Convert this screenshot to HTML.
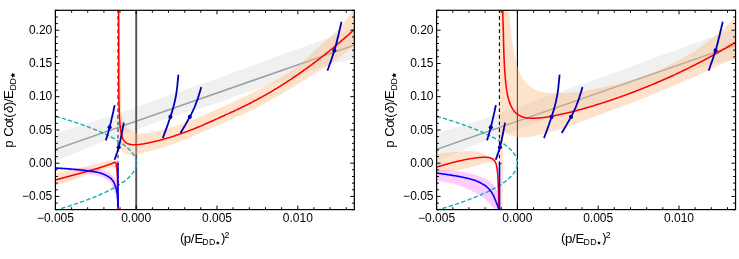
<!DOCTYPE html>
<html><head><meta charset="utf-8"><title>plot</title>
<style>
html,body{margin:0;padding:0;background:#fff;}
svg{display:block}
text{font-family:"Liberation Sans",sans-serif;fill:#000}
.t{font-size:12px}
.a{font-size:13.2px}
.s{font-size:8.8px}
</style></head><body>
<svg width="739" height="259" viewBox="0 0 739 259">
<defs><clipPath id="clip"><rect x="55.4" y="10.3" width="298.95000000000005" height="199.99999999999997"/></clipPath><filter id="gs" x="0" y="0" width="739" height="259" filterUnits="userSpaceOnUse" color-interpolation-filters="sRGB"><feColorMatrix type="saturate" values="0"/></filter></defs>
<rect width="739" height="259" fill="#fff"/>
<g clip-path="url(#clip)">
<path d="M55.4 133.4 L61.1 131.6 L66.8 129.8 L72.5 128.0 L78.4 126.2 L84.2 124.4 L90.0 122.6 L95.7 120.9 L101.1 119.2 L106.4 117.5 L111.7 115.8 L117.1 113.9 L123.0 111.9 L129.5 109.6 L137.0 106.9 L145.7 103.8 L155.3 100.4 L165.2 96.8 L175.1 93.3 L184.6 89.9 L193.2 86.9 L200.8 84.3 L207.7 81.9 L214.3 79.6 L220.8 77.3 L227.7 74.8 L235.0 72.1 L243.1 69.0 L252.1 65.7 L262.2 61.9 L273.4 57.8 L285.4 53.4 L297.6 49.0 L309.5 44.7 L320.6 40.7 L330.5 37.1 L338.6 34.2 L345.0 31.9 L350.1 30.0 L354.6 28.3 L354.6 59.0 L346.8 60.5 L339.0 62.1 L331.1 64.1 L322.9 66.6 L314.5 69.4 L305.6 72.6 L296.1 76.0 L286.2 79.5 L276.0 83.0 L266.0 86.3 L256.5 89.4 L247.7 92.1 L240.0 94.5 L233.9 96.7 L229.0 98.8 L223.2 101.1 L214.8 103.9 L204.6 107.1 L194.1 110.2 L184.6 113.0 L177.0 115.3 L170.5 117.4 L163.6 119.8 L155.5 122.6 L146.9 125.7 L138.5 128.8 L130.7 131.8 L123.8 134.5 L117.4 136.8 L111.6 138.7 L106.2 140.4 L101.5 142.0 L96.5 144.0 L90.3 146.6 L83.0 149.7 L75.4 153.0 L68.3 155.9 L61.7 158.4 L55.4 160.8Z" fill="#f0f0f0"/>
<path d="M55.4 149.4 L354.35 45.1" stroke="#9c9c9c" stroke-width="1.5" fill="none"/>
<path d="M55.4 163.2 L354.35 163.2" stroke="#fff8fa" stroke-width="1" fill="none"/>
<path d="M136.2 10.3 L136.2 209.6" stroke="#525252" stroke-width="1.9" fill="none"/>
<path d="M119.6 10.5 L119.6 14.2 L119.7 17.9 L119.7 21.6 L119.8 25.3 L119.8 28.9 L119.9 32.6 L119.9 36.3 L120.0 40.0 L120.0 43.7 L120.1 47.4 L120.1 51.1 L120.2 54.8 L120.3 58.5 L120.3 62.2 L120.4 65.9 L120.5 69.5 L120.6 73.2 L120.7 76.7 L120.7 80.2 L120.8 83.6 L120.9 86.9 L121.0 90.1 L121.1 93.2 L121.1 96.1 L121.2 98.8 L121.2 101.3 L121.3 103.7 L121.3 105.9 L121.4 108.0 L121.5 109.9 L121.6 111.8 L121.8 113.5 L122.0 115.3 L122.3 116.9 L122.7 118.6 L123.1 120.1 L123.6 121.6 L124.1 123.0 L124.7 124.4 L125.4 125.6 L126.1 126.7 L127.0 127.8 L127.9 128.7 L129.0 129.6 L130.2 130.3 L131.5 131.0 L132.9 131.7 L134.3 132.3 L135.8 132.9 L137.3 133.1 L138.7 133.3 L140.2 133.4 L141.7 133.4 L143.1 133.4 L144.6 133.3 L146.1 133.2 L147.5 133.0 L149.0 132.8 L150.5 132.6 L152.0 132.3 L153.4 132.1 L154.9 131.8 L156.4 131.4 L157.8 131.1 L159.3 130.7 L160.8 130.3 L162.2 129.9 L163.7 129.5 L165.2 129.1 L166.6 128.7 L168.1 128.3 L169.6 127.8 L171.0 127.4 L172.5 126.9 L174.0 126.4 L175.4 126.0 L176.9 125.5 L178.4 125.0 L179.9 124.5 L181.3 123.9 L182.8 123.4 L184.3 122.9 L185.7 122.3 L187.2 121.8 L188.7 121.2 L190.1 120.7 L191.6 120.1 L193.1 119.5 L194.5 119.0 L196.0 118.4 L197.5 117.8 L198.9 117.2 L200.4 116.6 L201.9 115.9 L203.3 115.3 L204.8 114.7 L206.3 114.0 L207.8 113.4 L209.2 112.7 L210.7 112.0 L212.2 111.4 L213.6 110.7 L215.1 110.1 L216.6 109.4 L218.0 108.8 L219.5 108.1 L221.0 107.4 L222.4 106.8 L223.9 106.2 L225.4 105.5 L226.8 104.9 L228.3 104.2 L229.8 103.6 L231.2 102.9 L232.7 102.2 L234.2 101.6 L235.7 100.9 L237.1 100.2 L238.6 99.5 L240.1 98.8 L241.5 98.2 L243.0 97.4 L244.5 96.7 L245.9 96.0 L247.4 95.3 L248.9 94.6 L250.3 93.8 L251.8 93.1 L253.3 92.3 L254.7 91.6 L256.2 90.8 L257.7 90.0 L259.2 89.3 L260.6 88.5 L262.1 87.7 L263.6 86.9 L265.0 86.1 L266.5 85.4 L268.0 84.6 L269.4 83.8 L270.9 83.0 L272.4 82.2 L273.8 81.3 L275.3 80.5 L276.8 79.7 L278.2 78.8 L279.7 77.9 L281.2 77.1 L282.6 76.2 L284.1 75.2 L285.6 74.3 L287.1 73.3 L288.5 72.4 L290.0 71.4 L291.5 70.3 L292.9 69.3 L294.4 68.2 L295.9 67.1 L297.3 65.9 L298.8 64.8 L300.3 63.6 L301.7 62.5 L303.2 61.3 L304.7 60.1 L306.1 58.8 L307.6 57.4 L309.1 56.0 L310.5 54.6 L312.0 53.1 L313.5 51.7 L315.0 50.3 L316.4 49.0 L317.9 47.7 L319.4 46.5 L320.8 45.2 L322.3 43.9 L323.8 42.6 L325.2 41.3 L326.7 40.0 L328.2 38.7 L329.6 37.4 L331.1 36.0 L332.6 34.7 L334.0 33.3 L335.5 32.0 L337.0 30.5 L338.4 29.0 L339.9 27.5 L341.4 25.8 L342.9 24.0 L344.3 22.1 L345.8 20.1 L347.3 18.1 L348.7 16.0 L350.2 13.9 L351.7 11.7 L353.1 10.3 L354.6 10.3 L354.6 45.1 L353.1 46.3 L351.5 47.6 L350.0 48.9 L348.5 50.1 L346.9 51.4 L345.4 52.6 L343.9 53.8 L342.3 55.0 L340.8 56.3 L339.3 57.5 L337.7 58.7 L336.2 59.9 L334.7 61.0 L333.1 62.2 L331.6 63.3 L330.1 64.4 L328.5 65.5 L327.0 66.4 L325.4 67.4 L323.9 68.3 L322.4 69.1 L320.8 70.0 L319.3 70.9 L317.8 71.8 L316.2 72.8 L314.7 73.7 L313.2 74.6 L311.6 75.6 L310.1 76.5 L308.6 77.5 L307.0 78.4 L305.5 79.3 L304.0 80.3 L302.4 81.2 L300.9 82.2 L299.4 83.1 L297.8 84.1 L296.3 85.1 L294.8 86.0 L293.2 87.0 L291.7 87.9 L290.2 88.9 L288.6 89.8 L287.1 90.7 L285.6 91.7 L284.0 92.6 L282.5 93.5 L281.0 94.4 L279.4 95.3 L277.9 96.2 L276.4 97.1 L274.8 97.9 L273.3 98.8 L271.8 99.6 L270.2 100.5 L268.7 101.3 L267.1 102.1 L265.6 103.0 L264.1 103.8 L262.5 104.6 L261.0 105.4 L259.5 106.2 L257.9 107.0 L256.4 107.8 L254.9 108.5 L253.3 109.3 L251.8 110.1 L250.3 110.8 L248.7 111.6 L247.2 112.3 L245.7 113.1 L244.1 113.8 L242.6 114.5 L241.1 115.2 L239.5 115.9 L238.0 116.6 L236.5 117.3 L234.9 118.0 L233.4 118.7 L231.9 119.3 L230.3 120.0 L228.8 120.7 L227.3 121.3 L225.7 122.0 L224.2 122.6 L222.7 123.3 L221.1 123.9 L219.6 124.6 L218.1 125.3 L216.5 125.9 L215.0 126.6 L213.5 127.3 L211.9 128.0 L210.4 128.7 L208.8 129.4 L207.3 130.1 L205.8 130.7 L204.2 131.4 L202.7 132.1 L201.2 132.8 L199.6 133.5 L198.1 134.2 L196.6 134.8 L195.0 135.5 L193.5 136.1 L192.0 136.8 L190.4 137.4 L188.9 138.0 L187.4 138.7 L185.8 139.3 L184.3 139.9 L182.8 140.5 L181.2 141.1 L179.7 141.6 L178.2 142.2 L176.6 142.8 L175.1 143.3 L173.6 143.9 L172.0 144.4 L170.5 144.9 L169.0 145.5 L167.4 146.0 L165.9 146.5 L164.4 147.0 L162.8 147.5 L161.3 147.9 L159.8 148.4 L158.2 148.9 L156.7 149.3 L155.2 149.7 L153.6 150.2 L152.1 150.6 L150.5 151.0 L149.0 151.4 L147.5 151.8 L145.9 152.2 L144.4 152.6 L142.9 153.0 L141.3 153.4 L139.8 153.8 L138.3 154.1 L136.7 154.4 L135.2 154.7 L133.7 154.9 L132.1 155.0 L130.6 155.0 L129.1 154.9 L127.5 154.6 L126.0 154.0 L124.8 153.4 L123.7 152.8 L122.7 152.0 L121.9 151.1 L121.4 150.0 L120.9 148.7 L120.6 147.4 L120.4 146.0 L120.2 144.5 L120.0 143.1 L119.9 141.7 L119.8 140.2 L119.6 138.5 L119.5 136.6 L119.4 134.3 L119.3 131.6 L119.1 128.7 L119.0 125.7 L118.8 122.6 L118.7 119.5 L118.6 116.6 L118.5 113.9 L118.3 111.4 L118.3 109.1 L118.2 106.8 L118.1 104.5 L118.0 102.0 L118.0 99.2 L117.9 96.1 L117.9 92.8 L117.9 89.1 L117.9 85.2 L117.8 81.1 L117.8 76.9 L117.8 72.5 L117.8 68.1 L117.8 63.6 L117.8 59.1 L117.8 54.6 L117.8 50.2 L117.8 45.7 L117.8 41.3 L117.8 36.9 L117.7 32.5 L117.7 28.1 L117.7 23.7 L117.7 19.3 L117.7 14.9 L117.7 10.5Z" fill="#f9b880" fill-opacity="0.40"/>
<path d="M55.4 173.0 L57.8 172.5 L60.2 172.0 L62.6 171.5 L65.0 170.9 L67.4 170.4 L69.7 169.9 L71.9 169.4 L74.2 169.0 L76.3 168.5 L78.5 168.0 L80.5 167.5 L82.5 167.1 L84.4 166.6 L86.2 166.2 L88.0 165.8 L89.7 165.4 L91.2 165.1 L92.8 164.7 L94.2 164.4 L95.6 164.1 L97.0 163.8 L98.4 163.4 L99.8 163.0 L101.3 162.6 L102.8 162.1 L104.4 161.7 L105.9 161.2 L107.3 160.8 L108.6 160.5 L109.7 160.4 L110.7 160.3 L111.5 160.3 L112.3 160.5 L113.0 160.6 L113.7 160.8 L114.4 161.1 L114.9 161.5 L115.5 161.9 L116.0 162.3 L116.4 167.5 L115.6 167.5 L114.8 167.4 L114.0 167.4 L113.2 167.4 L112.4 167.5 L111.4 167.6 L110.5 167.7 L109.5 167.9 L108.4 168.2 L107.3 168.5 L106.0 168.8 L104.7 169.2 L103.4 169.7 L101.9 170.2 L100.3 170.7 L98.7 171.3 L97.0 171.9 L95.2 172.5 L93.4 173.1 L91.5 173.8 L89.6 174.5 L87.7 175.1 L85.8 175.8 L83.8 176.5 L81.8 177.2 L79.9 177.8 L78.0 178.5 L76.0 179.1 L74.1 179.7 L72.2 180.3 L70.3 180.9 L68.4 181.5 L66.6 182.0 L64.7 182.6 L62.8 183.1 L61.0 183.7 L59.1 184.2 L57.3 184.8 L55.4 185.3Z" fill="#f9b880" fill-opacity="0.40"/>
<path d="M55.3 168.9 L56.1 169.0 L56.9 169.0 L57.7 169.1 L58.5 169.2 L59.3 169.2 L60.2 169.3 L61.0 169.4 L61.8 169.4 L62.6 169.5 L63.4 169.6 L64.2 169.7 L65.0 169.8 L65.9 169.8 L66.7 169.9 L67.5 170.0 L68.4 170.1 L69.2 170.2 L70.1 170.3 L70.9 170.4 L71.8 170.5 L72.7 170.6 L73.5 170.8 L74.4 170.9 L75.3 171.0 L76.2 171.2 L77.1 171.3 L78.0 171.4 L78.9 171.6 L79.7 171.7 L80.6 171.9 L81.5 172.0 L82.4 172.2 L83.3 172.4 L84.2 172.5 L85.0 172.7 L85.9 172.9 L86.8 173.1 L87.6 173.3 L88.5 173.5 L89.3 173.7 L90.1 173.9 L90.9 174.1 L91.7 174.3 L92.5 174.5 L93.3 174.7 L94.0 174.9 L94.8 175.0 L95.5 175.2 L96.2 175.4 L96.9 175.5 L97.6 175.7 L98.2 175.9 L98.9 176.0 L99.5 176.2 L100.0 176.4 L100.6 176.6 L101.1 176.8 L101.7 177.0 L102.2 177.2 L102.7 177.4 L103.1 177.6 L103.6 177.8 L104.1 178.1 L104.5 178.3 L104.9 178.5 L105.4 178.7 L105.8 179.0 L106.2 179.2 L106.5 179.4 L106.9 179.6 L107.2 179.9 L107.6 180.1 L107.9 180.3 L108.1 180.5 L108.4 180.7 L108.7 180.9 L108.9 181.2 L109.1 181.4 L109.4 181.7 L109.6 181.9 L109.8 182.2 L110.0 182.5 L110.2 182.8 L110.4 183.1 L110.6 183.4 L110.8 183.7 L111.0 184.0 L111.1 184.3 L111.3 184.6 L111.4 185.0 L111.5 185.3 L111.7 185.7 L111.8 186.0 L112.0 186.4 L112.1 186.8 L112.3 187.2 L112.5 187.6 L112.7 188.0 L113.0 188.4 L113.2 188.8 L113.4 189.2 L113.6 189.5 L113.8 189.9 L114.0 190.3 L114.2 190.7 L114.3 191.1 L114.5 191.5 L114.7 191.9 L114.9 192.4 L115.0 192.8 L115.2 193.3 L115.3 193.8 L115.5 194.3 L115.6 194.8 L115.8 195.3 L115.9 195.8 L116.1 196.3 L116.2 196.9 L116.4 197.4 L116.5 198.0 L116.7 198.5 L116.8 199.1 L116.9 199.6 L117.1 200.2 L117.2 200.7 L117.3 201.2 L117.5 201.8 L117.6 202.3 L117.7 202.8 L117.8 203.3 L117.9 203.7 L117.9 204.2 L117.9 204.6 L117.9 205.1 L117.9 205.5 L117.9 205.9 L117.9 206.4 L117.9 206.8 L118.0 207.2 L118.0 207.2 L117.9 206.8 L117.9 206.4 L117.9 205.9 L117.9 205.5 L117.9 205.1 L117.9 204.6 L117.9 204.2 L117.9 203.7 L117.9 203.3 L118.0 202.8 L118.0 202.3 L118.0 201.7 L118.0 201.2 L118.0 200.6 L118.0 200.1 L118.0 199.5 L118.0 199.0 L118.0 198.4 L118.0 197.8 L118.0 197.2 L118.0 196.7 L118.0 196.1 L118.0 195.5 L118.0 195.0 L118.0 194.4 L118.0 193.9 L118.0 193.3 L118.0 192.8 L118.0 192.2 L118.0 191.7 L118.0 191.1 L118.0 190.6 L118.0 190.1 L118.0 189.5 L118.0 189.0 L118.0 188.5 L118.0 188.0 L118.0 187.5 L118.0 187.0 L118.0 186.6 L118.0 186.1 L118.0 185.6 L118.0 185.2 L118.0 184.8 L118.0 184.3 L118.0 183.9 L117.9 183.4 L117.7 183.0 L117.5 182.5 L117.3 182.0 L117.1 181.5 L116.8 181.0 L116.6 180.5 L116.3 180.0 L116.0 179.6 L115.7 179.1 L115.4 178.6 L115.0 178.2 L114.7 177.7 L114.3 177.3 L113.9 176.8 L113.5 176.4 L113.1 176.0 L112.6 175.7 L112.2 175.3 L111.8 175.0 L111.3 174.7 L110.9 174.4 L110.4 174.1 L110.0 173.8 L109.5 173.5 L109.0 173.2 L108.6 173.0 L108.1 172.7 L107.6 172.4 L107.0 172.2 L106.5 171.9 L105.9 171.6 L105.3 171.3 L104.7 171.1 L104.1 170.8 L103.4 170.6 L102.8 170.3 L102.1 170.1 L101.4 169.9 L100.6 169.7 L99.9 169.5 L99.1 169.3 L98.3 169.1 L97.6 168.9 L96.8 168.8 L95.9 168.7 L95.1 168.6 L94.3 168.5 L93.4 168.5 L92.6 168.4 L91.7 168.4 L90.8 168.4 L90.0 168.4 L89.1 168.3 L88.2 168.3 L87.3 168.3 L86.4 168.3 L85.5 168.3 L84.6 168.2 L83.7 168.2 L82.8 168.2 L81.9 168.1 L81.0 168.1 L80.1 168.1 L79.2 168.1 L78.3 168.0 L77.4 168.0 L76.5 168.0 L75.6 167.9 L74.7 167.9 L73.8 167.9 L72.9 167.8 L72.0 167.8 L71.2 167.7 L70.3 167.7 L69.4 167.7 L68.6 167.6 L67.7 167.6 L66.9 167.6 L66.0 167.5 L65.2 167.5 L64.4 167.5 L63.5 167.4 L62.7 167.4 L61.9 167.4 L61.1 167.3 L60.3 167.3 L59.5 167.3 L58.7 167.2 L57.9 167.2 L57.1 167.2 L56.3 167.1 L55.5 167.1Z" fill="#ff00ff" fill-opacity="0.2"/>
<path d="M55.4 116.2 L56.5 116.5 L57.6 116.8 L58.6 117.1 L59.7 117.5 L60.7 117.8 L61.8 118.1 L62.8 118.4 L63.8 118.7 L64.9 119.0 L65.9 119.3 L66.9 119.7 L67.9 120.0 L68.9 120.3 L69.9 120.6 L70.8 120.9 L71.8 121.2 L72.8 121.5 L73.7 121.9 L74.7 122.2 L75.6 122.5 L76.5 122.8 L77.5 123.1 L78.4 123.4 L79.3 123.7 L80.2 124.1 L81.1 124.4 L82.0 124.7 L82.9 125.0 L83.7 125.3 L84.6 125.6 L85.5 125.9 L86.3 126.3 L87.2 126.6 L88.0 126.9 L88.8 127.2 L89.6 127.5 L90.5 127.8 L91.3 128.1 L92.1 128.5 L92.9 128.8 L93.7 129.1 L94.4 129.4 L95.2 129.7 L96.0 130.0 L96.7 130.3 L97.5 130.7 L98.2 131.0 L99.0 131.3 L99.7 131.6 L100.4 131.9 L101.1 132.2 L101.8 132.5 L102.5 132.9 L103.2 133.2 L103.9 133.5 L104.6 133.8 L105.3 134.1 L105.9 134.4 L106.6 134.7 L107.3 135.1 L107.9 135.4 L108.5 135.7 L109.2 136.0 L109.8 136.3 L110.4 136.6 L111.0 137.0 L111.6 137.3 L112.2 137.6 L112.8 137.9 L113.4 138.2 L113.9 138.5 L114.5 138.8 L115.1 139.2 L115.6 139.5 L116.1 139.8 L116.7 140.1 L117.2 140.4 L117.7 140.7 L118.2 141.0 L118.7 141.4 L119.2 141.7 L119.7 142.0 L120.2 142.3 L120.7 142.6 L121.2 142.9 L121.6 143.2 L122.1 143.6 L122.5 143.9 L123.0 144.2 L123.4 144.5 L123.8 144.8 L124.3 145.1 L124.7 145.4 L125.1 145.8 L125.5 146.1 L125.9 146.4 L126.2 146.7 L126.6 147.0 L127.0 147.3 L127.3 147.6 L127.7 148.0 L128.0 148.3 L128.4 148.6 L128.7 148.9 L129.0 149.2 L129.4 149.5 L129.7 149.8 L130.0 150.2 L130.3 150.5 L130.6 150.8 L130.8 151.1 L131.1 151.4 L131.4 151.7 L131.6 152.0 L131.9 152.4 L132.1 152.7 L132.4 153.0 L132.6 153.3 L132.8 153.6 L133.1 153.9 L133.3 154.2 L133.5 154.6 L133.7 154.9 L133.9 155.2 L134.0 155.5 L134.2 155.8 L134.4 156.1 L134.5 156.4 L134.7 156.8 L134.8 157.1 L135.0 157.4 L135.1 157.7 L135.2 158.0 L135.3 158.3 L135.4 158.6 L135.5 159.0 L135.6 159.3 L135.7 159.6 L135.8 159.9 L135.9 160.2 L135.9 160.5 L136.0 160.8 L136.0 161.2 L136.1 161.5 L136.1 161.8 L136.2 162.1 L136.2 162.4 L136.2 162.7 L136.2 163.0 L136.2 163.4 L136.2 163.7 L136.2 164.0 L136.2 164.3 L136.1 164.6 L136.1 164.9 L136.0 165.2 L136.0 165.6 L135.9 165.9 L135.9 166.2 L135.8 166.5 L135.7 166.8 L135.6 167.1 L135.5 167.4 L135.4 167.8 L135.3 168.1 L135.2 168.4 L135.1 168.7 L135.0 169.0 L134.8 169.3 L134.7 169.6 L134.5 170.0 L134.4 170.3 L134.2 170.6 L134.0 170.9 L133.9 171.2 L133.7 171.5 L133.5 171.8 L133.3 172.2 L133.1 172.5 L132.8 172.8 L132.6 173.1 L132.4 173.4 L132.1 173.7 L131.9 174.0 L131.6 174.4 L131.4 174.7 L131.1 175.0 L130.8 175.3 L130.6 175.6 L130.3 175.9 L130.0 176.2 L129.7 176.6 L129.4 176.9 L129.0 177.2 L128.7 177.5 L128.4 177.8 L128.0 178.1 L127.7 178.4 L127.3 178.8 L127.0 179.1 L126.6 179.4 L126.2 179.7 L125.9 180.0 L125.5 180.3 L125.1 180.6 L124.7 181.0 L124.3 181.3 L123.8 181.6 L123.4 181.9 L123.0 182.2 L122.5 182.5 L122.1 182.8 L121.6 183.2 L121.2 183.5 L120.7 183.8 L120.2 184.1 L119.7 184.4 L119.2 184.7 L118.7 185.0 L118.2 185.4 L117.7 185.7 L117.2 186.0 L116.7 186.3 L116.1 186.6 L115.6 186.9 L115.1 187.2 L114.5 187.6 L113.9 187.9 L113.4 188.2 L112.8 188.5 L112.2 188.8 L111.6 189.1 L111.0 189.4 L110.4 189.8 L109.8 190.1 L109.2 190.4 L108.5 190.7 L107.9 191.0 L107.3 191.3 L106.6 191.7 L105.9 192.0 L105.3 192.3 L104.6 192.6 L103.9 192.9 L103.2 193.2 L102.5 193.5 L101.8 193.9 L101.1 194.2 L100.4 194.5 L99.7 194.8 L99.0 195.1 L98.2 195.4 L97.5 195.7 L96.7 196.1 L96.0 196.4 L95.2 196.7 L94.4 197.0 L93.7 197.3 L92.9 197.6 L92.1 197.9 L91.3 198.3 L90.5 198.6 L89.6 198.9 L88.8 199.2 L88.0 199.5 L87.2 199.8 L86.3 200.1 L85.5 200.5 L84.6 200.8 L83.7 201.1 L82.9 201.4 L82.0 201.7 L81.1 202.0 L80.2 202.3 L79.3 202.7 L78.4 203.0 L77.5 203.3 L76.5 203.6 L75.6 203.9 L74.7 204.2 L73.7 204.5 L72.8 204.9 L71.8 205.2 L70.8 205.5 L69.9 205.8 L68.9 206.1 L67.9 206.4 L66.9 206.7 L65.9 207.1 L64.9 207.4 L63.8 207.7 L62.8 208.0 L61.8 208.3 L60.7 208.6 L59.7 208.9 L58.6 209.3 L57.6 209.6 L56.5 209.6 L55.4 209.6" stroke="#16acb8" stroke-width="1.4" stroke-dasharray="4.4 2.2" fill="none"/>
<path d="M118.0 10.3 L118.0 209.6" stroke="#555" stroke-width="1.4" stroke-dasharray="3.6 3.0" stroke-dashoffset="0.8" fill="none"/>
<path d="M118.5 -20.1 L118.6 13.1 L118.7 35.4 L118.7 51.6 L118.7 63.7 L118.7 73.3 L118.7 80.9 L118.8 87.2 L118.8 92.4 L118.9 96.8 L118.9 100.6 L119.0 103.9 L119.1 106.8 L119.2 109.4 L119.3 111.7 L119.4 113.7 L119.4 115.5 L119.5 117.2 L119.6 118.7 L119.7 120.1 L119.8 121.3 L119.9 122.5 L119.9 123.6 L120.0 124.6 L120.1 125.5 L120.2 126.3 L120.3 127.1 L120.4 127.9 L120.5 128.6 L120.5 129.2 L120.6 129.9 L120.7 130.4 L120.8 131.0 L120.9 131.5 L121.0 132.0 L121.1 132.5 L121.1 132.9 L121.2 133.3 L121.3 133.7 L121.4 134.1 L121.5 134.5 L121.6 134.8 L121.6 135.2 L121.7 135.5 L121.8 135.8 L121.9 136.1 L122.0 136.4 L122.1 136.6 L122.2 136.9 L122.2 137.1 L122.3 137.4 L122.4 137.6 L122.5 137.8 L122.6 138.0 L122.7 138.2 L122.7 138.4 L122.8 138.6 L122.9 138.8 L123.0 139.0 L123.2 139.4 L124.4 141.2 L125.5 142.3 L126.7 143.1 L127.9 143.7 L129.0 144.1 L130.2 144.4 L131.3 144.6 L132.5 144.7 L133.7 144.8 L134.8 144.8 L136.0 144.8 L137.2 144.7 L138.3 144.6 L139.5 144.4 L140.6 144.3 L141.8 144.1 L143.0 143.9 L144.1 143.8 L145.3 143.5 L146.5 143.3 L147.6 143.1 L148.8 142.9 L149.9 142.6 L151.1 142.3 L152.3 142.1 L153.4 141.8 L154.6 141.5 L155.8 141.2 L156.9 141.0 L158.1 140.7 L159.2 140.4 L160.4 140.0 L161.6 139.7 L162.7 139.4 L163.9 139.1 L165.1 138.7 L166.2 138.4 L167.4 138.1 L168.5 137.7 L169.7 137.4 L170.9 137.0 L172.0 136.7 L173.2 136.3 L174.4 135.9 L175.5 135.5 L176.7 135.1 L177.9 134.7 L179.0 134.3 L180.2 133.9 L181.3 133.5 L182.5 133.1 L183.7 132.7 L184.8 132.3 L186.0 131.8 L187.2 131.4 L188.3 131.0 L189.5 130.5 L190.6 130.1 L191.8 129.6 L193.0 129.2 L194.1 128.7 L195.3 128.3 L196.5 127.8 L197.6 127.3 L198.8 126.8 L199.9 126.4 L201.1 125.9 L202.3 125.4 L203.4 124.9 L204.6 124.3 L205.8 123.8 L206.9 123.3 L208.1 122.8 L209.2 122.3 L210.4 121.8 L211.6 121.2 L212.7 120.7 L213.9 120.2 L215.1 119.6 L216.2 119.1 L217.4 118.6 L218.6 118.1 L219.7 117.5 L220.9 117.0 L222.0 116.5 L223.2 116.0 L224.4 115.5 L225.5 114.9 L226.7 114.4 L227.9 113.9 L229.0 113.4 L230.2 112.8 L231.3 112.3 L232.5 111.8 L233.7 111.2 L234.8 110.7 L236.0 110.1 L237.2 109.6 L238.3 109.0 L239.5 108.5 L240.6 107.9 L241.8 107.3 L243.0 106.8 L244.1 106.2 L245.3 105.6 L246.5 105.0 L247.6 104.5 L248.8 103.9 L249.9 103.3 L251.1 102.7 L252.3 102.1 L253.4 101.4 L254.6 100.8 L255.8 100.2 L256.9 99.6 L258.1 99.0 L259.3 98.3 L260.4 97.7 L261.6 97.1 L262.8 96.4 L263.9 95.8 L265.1 95.1 L266.3 94.5 L267.4 93.8 L268.6 93.1 L269.8 92.5 L270.9 91.8 L272.1 91.1 L273.3 90.4 L274.4 89.7 L275.6 89.0 L276.8 88.3 L277.9 87.6 L279.1 86.9 L280.3 86.2 L281.4 85.4 L282.6 84.7 L283.8 83.9 L284.9 83.2 L286.1 82.4 L287.3 81.7 L288.4 80.9 L289.6 80.1 L290.8 79.4 L292.0 78.6 L293.1 77.8 L294.3 77.0 L295.5 76.2 L296.6 75.4 L297.8 74.6 L299.0 73.8 L300.1 73.0 L301.3 72.2 L302.5 71.3 L303.6 70.5 L304.8 69.7 L306.0 68.8 L307.1 68.0 L308.3 67.1 L309.5 66.3 L310.6 65.4 L311.8 64.6 L313.0 63.7 L314.1 62.8 L315.3 61.9 L316.5 61.0 L317.7 60.2 L318.8 59.3 L320.0 58.4 L321.2 57.5 L322.3 56.5 L323.5 55.6 L324.7 54.7 L325.8 53.8 L327.0 52.8 L328.2 51.9 L329.3 51.0 L330.5 50.0 L331.7 49.1 L332.9 48.1 L334.0 47.1 L335.2 46.2 L336.4 45.2 L337.5 44.2 L338.7 43.2 L339.9 42.2 L341.0 41.2 L342.2 40.2 L343.4 39.2 L344.5 38.2 L345.7 37.2 L346.9 36.2 L348.0 35.2 L349.2 34.1 L350.3 33.1 L351.5 32.0 L352.7 31.0 L353.8 29.9 L355.0 28.9" stroke="#ff0000" stroke-width="1.55" fill="none" stroke-linejoin="round"/>
<path d="M55.4 180.1 L57.2 179.6 L59.1 179.1 L60.9 178.6 L62.7 178.1 L64.6 177.6 L66.4 177.1 L68.2 176.6 L70.1 176.1 L71.9 175.6 L73.8 175.1 L75.6 174.6 L77.5 174.1 L79.3 173.6 L81.2 173.1 L83.0 172.5 L84.9 172.0 L86.7 171.5 L88.5 171.0 L90.3 170.4 L92.1 169.9 L93.9 169.4 L95.6 168.9 L97.2 168.4 L98.8 167.9 L100.4 167.4 L101.9 166.9 L103.3 166.5 L104.7 166.0 L106.0 165.6 L107.2 165.2 L108.3 164.8 L109.4 164.4 L110.3 164.1 L111.1 163.7 L111.9 163.4 L112.5 163.2 L113.1 162.9 L113.6 162.7 L114.1 162.5 L114.5 162.3 L115.0 162.3 L115.3 162.3 L115.6 162.5 L115.9 162.9 L116.0 163.3 L116.2 163.9 L116.3 164.5 L116.3 165.1 L116.4 165.8 L116.5 166.8 L116.7 167.8 L116.8 168.8 L116.9 169.9 L117.0 171.1 L117.1 172.3 L117.2 173.6 L117.2 174.9 L117.3 176.3 L117.4 177.7 L117.4 179.1 L117.5 180.6 L117.5 182.1 L117.6 183.6 L117.6 185.1 L117.6 186.6 L117.7 188.1 L117.7 189.7 L117.7 191.2 L117.8 192.9 L117.8 194.6 L117.8 196.4 L117.8 198.2 L117.9 200.2 L117.9 202.1 L117.9 204.1 L117.9 206.2 L117.9 208.2 L117.9 210.3" stroke="#ff0000" stroke-width="1.55" fill="none" stroke-linejoin="round"/>
<path d="M55.4 168.0 L56.2 168.0 L57.0 168.1 L57.8 168.1 L58.6 168.2 L59.4 168.3 L60.2 168.3 L61.0 168.4 L61.8 168.4 L62.7 168.5 L63.5 168.5 L64.3 168.6 L65.1 168.6 L65.9 168.7 L66.8 168.8 L67.6 168.8 L68.5 168.9 L69.3 168.9 L70.2 169.0 L71.0 169.1 L71.9 169.2 L72.8 169.2 L73.7 169.3 L74.6 169.4 L75.4 169.5 L76.3 169.6 L77.2 169.6 L78.1 169.7 L79.0 169.8 L79.9 169.9 L80.8 170.0 L81.7 170.1 L82.6 170.2 L83.5 170.3 L84.4 170.4 L85.3 170.5 L86.2 170.6 L87.0 170.7 L87.9 170.8 L88.8 170.9 L89.6 171.0 L90.5 171.1 L91.3 171.2 L92.2 171.4 L93.0 171.5 L93.8 171.6 L94.6 171.7 L95.4 171.9 L96.1 172.0 L96.9 172.2 L97.6 172.3 L98.3 172.5 L99.1 172.7 L99.7 172.8 L100.4 173.0 L101.1 173.2 L101.7 173.5 L102.3 173.7 L102.9 173.9 L103.4 174.1 L104.0 174.4 L104.5 174.6 L105.0 174.9 L105.6 175.1 L106.0 175.4 L106.5 175.6 L107.0 175.9 L107.4 176.1 L107.8 176.4 L108.3 176.6 L108.7 176.9 L109.1 177.1 L109.4 177.4 L109.8 177.6 L110.2 177.9 L110.5 178.2 L110.9 178.5 L111.2 178.8 L111.5 179.1 L111.8 179.5 L112.1 179.8 L112.4 180.2 L112.7 180.5 L113.0 180.9 L113.2 181.3 L113.5 181.7 L113.7 182.1 L113.9 182.5 L114.1 182.9 L114.3 183.3 L114.5 183.7 L114.6 184.1 L114.8 184.5 L114.9 185.0 L115.1 185.4 L115.2 185.8 L115.3 186.2 L115.5 186.6 L115.6 187.0 L115.8 187.5 L115.9 187.9 L116.0 188.3 L116.2 188.8 L116.3 189.2 L116.4 189.7 L116.5 190.1 L116.7 190.6 L116.8 191.1 L116.9 191.5 L116.9 192.0 L117.0 192.5 L117.1 193.0 L117.2 193.6 L117.2 194.1 L117.3 194.6 L117.3 195.1 L117.4 195.7 L117.4 196.2 L117.5 196.8 L117.5 197.3 L117.5 197.9 L117.6 198.4 L117.6 199.0 L117.7 199.6 L117.7 200.1 L117.7 200.7 L117.8 201.2 L117.8 201.7 L117.8 202.3 L117.8 202.8 L117.9 203.3 L117.9 203.7 L117.9 204.2 L117.9 204.6 L117.9 205.1 L117.9 205.5 L117.9 205.9 L117.9 206.4 L117.9 206.8 L118.0 207.2" stroke="#0000ff" stroke-width="1.6" fill="none" stroke-linejoin="round"/>
<path d="M118 207.2 L118 163.0" stroke="#0000ff" stroke-width="1.6" fill="none"/>
<path d="M105.8 140.4 L106.3 138.9 L106.7 137.4 L107.2 135.9 L107.6 134.4 L108.1 132.8 L108.5 131.2 L109.0 129.5 L109.5 127.8 L109.9 126.0 L110.4 124.1 L110.9 122.1 L111.3 120.1 L111.8 118.1 L112.3 116.0 L112.8 113.8 L113.3 111.7 L113.7 109.5 L114.2 107.3 L114.7 105.1" stroke="#0000b4" stroke-width="1.8" fill="none"/>
<path d="M114.5 159.8 L115.0 158.4 L115.6 156.9 L116.1 155.4 L116.6 153.9 L117.2 152.3 L117.7 150.7 L118.2 149.0 L118.7 147.2 L119.2 145.3 L119.7 143.3 L120.2 141.2 L120.6 139.0 L121.1 136.8 L121.6 134.5 L122.0 132.2 L122.5 129.8 L122.9 127.4 L123.4 125.0 L123.8 122.6" stroke="#0000b4" stroke-width="1.8" fill="none"/>
<path d="M162.8 138.1 L164.0 134.8 L165.3 131.4 L166.5 128.1 L167.7 124.8 L168.8 121.5 L169.9 118.3 L171.0 115.0 L172.0 111.8 L173.0 108.6 L173.8 105.4 L174.6 102.2 L175.3 98.9 L176.0 95.6 L176.5 92.2 L177.0 88.7 L177.4 85.2 L177.7 81.7 L178.1 78.2 L178.4 74.6" stroke="#0000b4" stroke-width="1.8" fill="none"/>
<path d="M180.5 133.0 L182.0 130.5 L183.5 128.0 L184.9 125.6 L186.3 123.1 L187.7 120.7 L189.0 118.4 L190.2 116.1 L191.4 113.9 L192.5 111.7 L193.5 109.5 L194.5 107.3 L195.4 105.0 L196.3 102.6 L197.2 100.2 L198.1 97.6 L198.9 95.0 L199.7 92.4 L200.5 89.7 L201.3 87.0" stroke="#0000b4" stroke-width="1.8" fill="none"/>
<path d="M327.4 70.6 L328.5 67.7 L329.5 64.8 L330.6 61.9 L331.6 59.0 L332.5 56.2 L333.4 53.4 L334.3 50.8 L335.1 48.2 L335.8 45.6 L336.4 43.2 L337.0 40.7 L337.6 38.3 L338.2 36.0 L338.8 33.6 L339.3 31.2 L339.9 28.8 L340.4 26.5 L341.0 24.1 L341.5 21.7" stroke="#0000b4" stroke-width="1.8" fill="none"/>
<circle cx="109.6" cy="127.2" r="2.05" fill="#0000b4"/>
<circle cx="118.7" cy="147.2" r="2.05" fill="#0000b4"/>
<circle cx="170.4" cy="116.9" r="2.05" fill="#0000b4"/>
<circle cx="189.8" cy="116.9" r="2.05" fill="#0000b4"/>
<circle cx="334.4" cy="50.4" r="2.05" fill="#0000b4"/>
</g>
<rect x="55.4" y="10.3" width="298.95000000000005" height="199.29999999999998" fill="none" stroke="#000" stroke-width="1.2"/>
<path d="M55.4 209.6 v-4.0 M55.4 10.3 v4.0 M71.6 209.6 v-2.4 M71.6 10.3 v2.4 M87.7 209.6 v-2.4 M87.7 10.3 v2.4 M103.9 209.6 v-2.4 M103.9 10.3 v2.4 M120.0 209.6 v-2.4 M120.0 10.3 v2.4 M136.2 209.6 v-4.0 M136.2 10.3 v4.0 M152.4 209.6 v-2.4 M152.4 10.3 v2.4 M168.5 209.6 v-2.4 M168.5 10.3 v2.4 M184.7 209.6 v-2.4 M184.7 10.3 v2.4 M200.8 209.6 v-2.4 M200.8 10.3 v2.4 M217.0 209.6 v-4.0 M217.0 10.3 v4.0 M233.1 209.6 v-2.4 M233.1 10.3 v2.4 M249.3 209.6 v-2.4 M249.3 10.3 v2.4 M265.5 209.6 v-2.4 M265.5 10.3 v2.4 M281.6 209.6 v-2.4 M281.6 10.3 v2.4 M297.8 209.6 v-4.0 M297.8 10.3 v4.0 M313.9 209.6 v-2.4 M313.9 10.3 v2.4 M330.1 209.6 v-2.4 M330.1 10.3 v2.4 M346.3 209.6 v-2.4 M346.3 10.3 v2.4 M55.4 209.7 h2.4 M354.35 209.7 h-2.4 M55.4 203.1 h2.4 M354.35 203.1 h-2.4 M55.4 196.4 h4.0 M354.35 196.4 h-4.0 M55.4 189.8 h2.4 M354.35 189.8 h-2.4 M55.4 183.1 h2.4 M354.35 183.1 h-2.4 M55.4 176.5 h2.4 M354.35 176.5 h-2.4 M55.4 169.8 h2.4 M354.35 169.8 h-2.4 M55.4 163.2 h4.0 M354.35 163.2 h-4.0 M55.4 156.6 h2.4 M354.35 156.6 h-2.4 M55.4 149.9 h2.4 M354.35 149.9 h-2.4 M55.4 143.3 h2.4 M354.35 143.3 h-2.4 M55.4 136.6 h2.4 M354.35 136.6 h-2.4 M55.4 130.0 h4.0 M354.35 130.0 h-4.0 M55.4 123.3 h2.4 M354.35 123.3 h-2.4 M55.4 116.7 h2.4 M354.35 116.7 h-2.4 M55.4 110.0 h2.4 M354.35 110.0 h-2.4 M55.4 103.4 h2.4 M354.35 103.4 h-2.4 M55.4 96.7 h4.0 M354.35 96.7 h-4.0 M55.4 90.1 h2.4 M354.35 90.1 h-2.4 M55.4 83.4 h2.4 M354.35 83.4 h-2.4 M55.4 76.8 h2.4 M354.35 76.8 h-2.4 M55.4 70.1 h2.4 M354.35 70.1 h-2.4 M55.4 63.5 h4.0 M354.35 63.5 h-4.0 M55.4 56.8 h2.4 M354.35 56.8 h-2.4 M55.4 50.2 h2.4 M354.35 50.2 h-2.4 M55.4 43.5 h2.4 M354.35 43.5 h-2.4 M55.4 36.9 h2.4 M354.35 36.9 h-2.4 M55.4 30.2 h4.0 M354.35 30.2 h-4.0 M55.4 23.6 h2.4 M354.35 23.6 h-2.4 M55.4 17.0 h2.4 M354.35 17.0 h-2.4 M55.4 10.3 h2.4 M354.35 10.3 h-2.4" stroke="#000" stroke-width="1" fill="none"/>
<g filter="url(#gs)">
<text x="55.4" y="222" text-anchor="middle" class="t">−0.005</text>
<text x="136.2" y="222" text-anchor="middle" class="t">0.000</text>
<text x="217.0" y="222" text-anchor="middle" class="t">0.005</text>
<text x="297.8" y="222" text-anchor="middle" class="t">0.010</text>
<text x="52.3" y="200.1" text-anchor="end" class="t">−0.05</text>
<text x="52.3" y="166.9" text-anchor="end" class="t">0.00</text>
<text x="52.3" y="133.7" text-anchor="end" class="t">0.05</text>
<text x="52.3" y="100.4" text-anchor="end" class="t">0.10</text>
<text x="52.3" y="67.2" text-anchor="end" class="t">0.15</text>
<text x="52.3" y="33.9" text-anchor="end" class="t">0.20</text>
<text y="242.6" class="a"><tspan x="183.8">p</tspan><tspan x="190.8">/</tspan><tspan x="194.4">E</tspan></text><text y="242.0" class="a"><tspan x="179.9">(</tspan><tspan x="221.0">)</tspan></text>
<text y="244.8" class="s"><tspan x="202.2">D</tspan><tspan x="209.0">D</tspan></text>
<text y="238.4" class="s"><tspan x="224.6">2</tspan></text>
<polygon points="217.80,241.00 218.39,242.19 219.70,242.38 218.75,243.31 218.98,244.62 217.80,244.00 216.62,244.62 216.85,243.31 215.90,242.38 217.21,242.19" fill="#000"/>
<g transform="translate(13.1,147) rotate(-90)"><text y="0" class="a"><tspan x="-0.86">p</tspan><tspan x="10.2">C</tspan><tspan x="19.2">o</tspan><tspan x="25.5">t</tspan><tspan x="29.3">(</tspan><tspan x="33.9" font-style="italic">δ</tspan><tspan x="41.1">)</tspan><tspan x="44.8">/</tspan><tspan x="48.0">E</tspan></text><text y="2.6" class="s"><tspan x="56.4">D</tspan><tspan x="62.5">D</tspan></text><polygon points="71.75,-2.70 72.51,-1.15 74.22,-0.90 72.99,0.30 73.28,2.00 71.75,1.20 70.22,2.00 70.51,0.30 69.28,-0.90 70.99,-1.15" fill="#000"/></g>
</g>
<g transform="translate(381.2,0)">
<g clip-path="url(#clip)">
<path d="M55.4 133.4 L61.1 131.6 L66.8 129.8 L72.5 128.0 L78.4 126.2 L84.2 124.4 L90.0 122.6 L95.7 120.9 L101.1 119.2 L106.4 117.5 L111.7 115.8 L117.1 113.9 L123.0 111.9 L129.5 109.6 L137.0 106.9 L145.7 103.8 L155.3 100.4 L165.2 96.8 L175.1 93.3 L184.6 89.9 L193.2 86.9 L200.8 84.3 L207.7 81.9 L214.3 79.6 L220.8 77.3 L227.7 74.8 L235.0 72.1 L243.1 69.0 L252.1 65.7 L262.2 61.9 L273.4 57.8 L285.4 53.4 L297.6 49.0 L309.5 44.7 L320.6 40.7 L330.5 37.1 L338.6 34.2 L345.0 31.9 L350.1 30.0 L354.6 28.3 L354.6 59.0 L346.8 60.5 L339.0 62.1 L331.1 64.1 L322.9 66.6 L314.5 69.4 L305.6 72.6 L296.1 76.0 L286.2 79.5 L276.0 83.0 L266.0 86.3 L256.5 89.4 L247.7 92.1 L240.0 94.5 L233.9 96.7 L229.0 98.8 L223.2 101.1 L214.8 103.9 L204.6 107.1 L194.1 110.2 L184.6 113.0 L177.0 115.3 L170.5 117.4 L163.6 119.8 L155.5 122.6 L146.9 125.7 L138.5 128.8 L130.7 131.8 L123.8 134.5 L117.4 136.8 L111.6 138.7 L106.2 140.4 L101.5 142.0 L96.5 144.0 L90.3 146.6 L83.0 149.7 L75.4 153.0 L68.3 155.9 L61.7 158.4 L55.4 160.8Z" fill="#f0f0f0"/>
<path d="M55.4 149.4 L354.35 45.1" stroke="#9c9c9c" stroke-width="1.5" fill="none"/>
<path d="M55.4 163.2 L354.35 163.2" stroke="#fff8fa" stroke-width="1" fill="none"/>
<path d="M136.2 10.3 L136.2 209.6" stroke="#000" stroke-width="1.1" fill="none"/>
<path d="M127.4 10.3 L128.5 17.4 L129.7 30.2 L130.8 40.1 L132.0 47.9 L133.1 54.3 L134.3 59.5 L135.4 63.8 L136.5 67.5 L137.7 70.6 L138.8 73.4 L140.0 75.7 L141.1 77.7 L142.2 79.5 L143.4 81.1 L144.5 82.5 L145.7 83.8 L146.8 84.9 L148.0 85.9 L149.1 86.7 L150.2 87.5 L151.4 88.2 L152.5 88.9 L153.7 89.4 L154.8 89.9 L155.9 90.4 L157.1 90.8 L158.2 91.2 L159.4 91.5 L160.5 91.8 L161.7 92.0 L162.8 92.3 L163.9 92.5 L165.1 92.6 L166.2 92.8 L167.4 92.9 L168.5 93.0 L169.6 93.1 L170.8 93.2 L171.9 93.2 L173.1 93.3 L174.2 93.3 L175.4 93.3 L176.5 93.3 L177.6 93.3 L178.8 93.2 L179.9 93.2 L181.1 93.2 L182.2 93.1 L183.3 93.0 L184.5 93.0 L185.6 92.9 L186.8 92.8 L187.9 92.7 L189.1 92.6 L190.2 92.5 L191.3 92.4 L192.5 92.2 L193.6 92.1 L194.8 92.0 L195.9 91.8 L197.0 91.7 L198.2 91.5 L199.3 91.4 L200.5 91.2 L201.6 91.0 L202.8 90.9 L203.9 90.7 L205.0 90.5 L206.2 90.3 L207.3 90.1 L208.5 90.0 L209.6 89.8 L210.7 89.6 L211.9 89.3 L213.0 89.1 L214.2 88.9 L215.3 88.7 L216.5 88.5 L217.6 88.3 L218.7 88.0 L219.9 87.8 L221.0 87.5 L222.2 87.3 L223.3 87.1 L224.4 86.8 L225.6 86.6 L226.7 86.3 L227.9 86.0 L229.0 85.8 L230.2 85.5 L231.3 85.2 L232.4 84.9 L233.6 84.7 L234.7 84.4 L235.9 84.1 L237.0 83.8 L238.1 83.5 L239.3 83.2 L240.4 82.9 L241.6 82.6 L242.7 82.2 L243.9 81.9 L245.0 81.6 L246.1 81.3 L247.3 80.9 L248.4 80.6 L249.6 80.2 L250.7 79.9 L251.8 79.5 L253.0 79.2 L254.1 78.8 L255.3 78.4 L256.4 78.1 L257.6 77.7 L258.7 77.3 L259.8 76.9 L261.0 76.5 L262.1 76.1 L263.3 75.7 L264.4 75.3 L265.5 74.9 L266.7 74.5 L267.8 74.0 L269.0 73.6 L270.1 73.1 L271.3 72.7 L272.4 72.2 L273.5 71.8 L274.7 71.3 L275.8 70.8 L277.0 70.4 L278.1 69.9 L279.2 69.4 L280.4 68.9 L281.5 68.4 L282.7 67.9 L283.8 67.3 L285.0 66.8 L286.1 66.3 L287.2 65.7 L288.4 65.2 L289.5 64.6 L290.7 64.1 L291.8 63.5 L292.9 62.9 L294.1 62.3 L295.2 61.7 L296.4 61.1 L297.5 60.5 L298.7 59.9 L299.8 59.3 L300.9 58.6 L302.1 58.0 L303.2 57.3 L304.4 56.6 L305.5 56.0 L306.6 55.3 L307.8 54.6 L308.9 53.9 L310.1 53.2 L311.2 52.5 L312.4 51.7 L313.5 51.0 L314.6 50.2 L315.8 49.5 L316.9 48.7 L318.1 47.9 L319.2 47.1 L320.3 46.3 L321.5 45.5 L322.6 44.7 L323.8 43.9 L324.9 43.0 L326.1 42.2 L327.2 41.3 L328.3 40.4 L329.5 39.5 L330.6 38.6 L331.8 37.7 L332.9 36.8 L334.0 35.9 L335.2 34.9 L336.3 34.0 L337.5 33.0 L338.6 32.0 L339.8 31.0 L340.9 30.0 L342.0 29.0 L343.2 27.9 L344.3 26.9 L345.5 25.8 L346.6 24.7 L347.7 23.7 L348.9 22.5 L350.0 21.4 L351.2 20.3 L352.3 19.2 L353.5 18.0 L354.6 16.8 L354.6 58.2 L353.4 58.7 L352.3 59.1 L351.1 59.6 L350.0 60.1 L348.8 60.5 L347.7 61.0 L346.5 61.5 L345.3 62.0 L344.2 62.5 L343.0 63.0 L341.9 63.6 L340.7 64.1 L339.5 64.7 L338.4 65.2 L337.2 65.8 L336.1 66.3 L334.9 66.8 L333.8 67.4 L332.6 67.9 L331.4 68.5 L330.3 69.0 L329.1 69.5 L328.0 70.1 L326.8 70.6 L325.6 71.2 L324.5 71.7 L323.3 72.2 L322.2 72.8 L321.0 73.3 L319.9 73.8 L318.7 74.4 L317.5 74.9 L316.4 75.4 L315.2 75.9 L314.1 76.4 L312.9 76.9 L311.7 77.4 L310.6 77.9 L309.4 78.4 L308.3 78.9 L307.1 79.4 L306.0 79.9 L304.8 80.4 L303.6 80.9 L302.5 81.4 L301.3 81.9 L300.2 82.4 L299.0 82.9 L297.8 83.4 L296.7 83.9 L295.5 84.4 L294.4 84.9 L293.2 85.3 L292.1 85.8 L290.9 86.3 L289.7 86.8 L288.6 87.3 L287.4 87.8 L286.3 88.3 L285.1 88.8 L283.9 89.3 L282.8 89.7 L281.6 90.2 L280.5 90.7 L279.3 91.2 L278.2 91.7 L277.0 92.2 L275.8 92.7 L274.7 93.2 L273.5 93.6 L272.4 94.1 L271.2 94.6 L270.0 95.1 L268.9 95.6 L267.7 96.0 L266.6 96.5 L265.4 97.0 L264.3 97.4 L263.1 97.9 L261.9 98.4 L260.8 98.8 L259.6 99.3 L258.5 99.7 L257.3 100.2 L256.1 100.7 L255.0 101.1 L253.8 101.5 L252.7 102.0 L251.5 102.4 L250.4 102.9 L249.2 103.3 L248.0 103.8 L246.9 104.2 L245.7 104.6 L244.6 105.1 L243.4 105.5 L242.2 105.9 L241.1 106.4 L239.9 106.8 L238.8 107.2 L237.6 107.7 L236.5 108.1 L235.3 108.5 L234.1 108.9 L233.0 109.4 L231.8 109.8 L230.7 110.2 L229.5 110.7 L228.3 111.1 L227.2 111.5 L226.0 112.0 L224.9 112.4 L223.7 112.8 L222.6 113.3 L221.4 113.7 L220.2 114.1 L219.1 114.6 L217.9 115.0 L216.8 115.4 L215.6 115.9 L214.4 116.3 L213.3 116.7 L212.1 117.2 L211.0 117.6 L209.8 118.0 L208.7 118.5 L207.5 118.9 L206.3 119.3 L205.2 119.8 L204.0 120.2 L202.9 120.6 L201.7 121.1 L200.5 121.5 L199.4 121.9 L198.2 122.4 L197.1 122.8 L195.9 123.2 L194.8 123.6 L193.6 124.1 L192.4 124.5 L191.3 124.9 L190.1 125.3 L189.0 125.7 L187.8 126.1 L186.6 126.5 L185.5 127.0 L184.3 127.4 L183.2 127.8 L182.0 128.2 L180.9 128.5 L179.7 128.9 L178.5 129.3 L177.4 129.7 L176.2 130.0 L175.1 130.4 L173.9 130.7 L172.7 131.1 L171.6 131.4 L170.4 131.7 L169.3 132.1 L168.1 132.4 L167.0 132.7 L165.8 133.0 L164.6 133.3 L163.5 133.6 L162.3 133.9 L161.2 134.2 L160.0 134.5 L158.8 134.8 L157.7 135.0 L156.5 135.3 L155.4 135.5 L154.2 135.8 L153.1 136.0 L151.9 136.2 L150.7 136.4 L149.6 136.6 L148.4 136.7 L147.3 136.9 L146.1 137.0 L144.9 137.1 L143.8 137.2 L142.6 137.3 L141.5 137.3 L140.3 137.3 L139.2 137.3 L138.0 137.2 L136.8 137.2 L135.7 137.0 L134.5 136.8 L133.4 136.6 L132.2 136.3 L131.0 136.0 L129.9 135.5 L128.7 135.1 L127.6 134.5 L126.4 133.8 L125.3 133.1 L124.1 132.2 L123.7 131.9 L123.4 131.7 L123.1 131.6 L122.8 131.7 L122.6 131.9 L122.4 132.3 L122.2 132.7 L122.1 133.2 L122.0 133.7 L122.0 134.3 L121.9 134.9 L121.9 135.6 L121.8 136.4 L121.8 137.2 L121.8 138.1 L121.8 139.0 L121.7 140.0 L121.7 141.0 L121.7 142.0 L121.6 209.6 L118.4 209.6 L118.4 10.3Z" fill="#f9b880" fill-opacity="0.40"/>
<path d="M55.2 153.9 L57.5 153.7 L59.8 153.4 L62.1 153.2 L64.3 153.0 L66.5 152.7 L68.7 152.5 L70.7 152.3 L72.7 152.1 L74.6 151.9 L76.4 151.7 L78.2 151.5 L79.9 151.4 L81.6 151.2 L83.3 151.1 L85.1 151.0 L86.8 151.0 L88.6 151.0 L90.3 151.1 L92.1 151.2 L93.8 151.4 L95.4 151.6 L97.0 152.0 L98.6 152.4 L100.0 152.8 L101.4 153.3 L102.7 153.9 L103.9 154.5 L105.0 155.1 L106.0 155.7 L107.1 156.4 L108.1 157.0 L109.3 157.7 L110.4 158.3 L111.4 159.0 L112.3 159.8 L113.1 160.7 L113.7 161.6 L114.3 162.5 L114.8 163.5 L114.8 163.5 L114.1 163.1 L113.5 162.7 L112.7 162.4 L112.0 162.2 L111.1 162.0 L110.1 162.0 L109.1 162.1 L108.0 162.3 L106.8 162.5 L105.5 162.9 L104.1 163.2 L102.6 163.6 L101.1 164.0 L99.5 164.5 L97.9 164.9 L96.3 165.4 L94.7 165.9 L93.1 166.3 L91.5 166.8 L90.0 167.2 L88.5 167.6 L87.0 168.1 L85.5 168.4 L84.0 168.8 L82.5 169.1 L81.0 169.5 L79.3 169.8 L77.7 170.0 L75.9 170.3 L74.0 170.5 L72.1 170.7 L70.1 170.9 L68.1 171.1 L66.0 171.3 L63.9 171.4 L61.8 171.6 L59.6 171.7 L57.4 171.9 L55.2 172.0Z" fill="#f9b880" fill-opacity="0.40"/>
<path d="M55.2 170.0 L57.2 170.0 L59.1 170.0 L61.1 170.0 L63.0 170.1 L64.8 170.1 L66.7 170.2 L68.4 170.3 L70.2 170.4 L71.8 170.5 L73.4 170.7 L75.0 170.9 L76.6 171.1 L78.2 171.3 L79.7 171.5 L81.3 171.8 L82.9 172.0 L84.5 172.3 L86.1 172.7 L87.8 173.0 L89.4 173.5 L91.0 173.9 L92.7 174.4 L94.3 175.0 L95.8 175.5 L97.4 176.1 L98.8 176.6 L100.2 177.2 L101.6 177.7 L102.8 178.2 L104.0 178.8 L105.2 179.4 L106.3 180.1 L107.3 180.8 L108.3 181.4 L109.2 182.1 L110.0 182.8 L110.7 183.3 L111.4 183.9 L112.1 184.6 L112.7 185.3 L113.4 186.1 L114.0 187.0 L114.5 188.0 L115.0 189.0 L115.3 190.0 L115.6 191.1 L115.9 192.1 L116.1 193.2 L116.3 194.3 L116.5 195.4 L116.6 196.6 L116.8 197.9 L116.9 199.4 L117.1 201.1 L117.2 202.8 L117.4 204.7 L117.5 206.6 L117.7 208.6 L117.8 210.6 L113.3 210.6 L113.1 210.1 L113.0 209.6 L112.7 209.0 L112.3 208.4 L111.8 207.8 L111.3 207.1 L110.6 206.4 L110.0 205.6 L109.3 204.8 L108.7 204.1 L108.1 203.3 L107.5 202.6 L106.9 201.8 L106.3 201.1 L105.6 200.4 L104.9 199.7 L104.1 199.1 L103.3 198.4 L102.4 197.8 L101.5 197.2 L100.6 196.6 L99.6 196.0 L98.6 195.3 L97.6 194.7 L96.5 194.1 L95.4 193.5 L94.3 192.9 L93.2 192.3 L92.1 191.7 L91.0 191.1 L89.9 190.6 L88.7 190.1 L87.6 189.6 L86.5 189.1 L85.5 188.6 L84.4 188.1 L83.4 187.6 L82.4 187.1 L81.3 186.6 L80.3 186.2 L79.2 185.7 L78.0 185.2 L76.7 184.8 L75.3 184.4 L73.8 184.0 L72.1 183.6 L70.4 183.2 L68.6 182.9 L66.8 182.6 L65.1 182.3 L63.4 182.0 L61.8 181.8 L60.4 181.6 L59.1 181.3 L58.0 181.2 L57.2 181.0 L56.4 180.9 L55.8 180.7 L55.2 180.6Z" fill="#ff00ff" fill-opacity="0.2"/>
<path d="M55.4 116.2 L56.5 116.5 L57.6 116.8 L58.6 117.1 L59.7 117.5 L60.7 117.8 L61.8 118.1 L62.8 118.4 L63.8 118.7 L64.9 119.0 L65.9 119.3 L66.9 119.7 L67.9 120.0 L68.9 120.3 L69.9 120.6 L70.8 120.9 L71.8 121.2 L72.8 121.5 L73.7 121.9 L74.7 122.2 L75.6 122.5 L76.5 122.8 L77.5 123.1 L78.4 123.4 L79.3 123.7 L80.2 124.1 L81.1 124.4 L82.0 124.7 L82.9 125.0 L83.7 125.3 L84.6 125.6 L85.5 125.9 L86.3 126.3 L87.2 126.6 L88.0 126.9 L88.8 127.2 L89.6 127.5 L90.5 127.8 L91.3 128.1 L92.1 128.5 L92.9 128.8 L93.7 129.1 L94.4 129.4 L95.2 129.7 L96.0 130.0 L96.7 130.3 L97.5 130.7 L98.2 131.0 L99.0 131.3 L99.7 131.6 L100.4 131.9 L101.1 132.2 L101.8 132.5 L102.5 132.9 L103.2 133.2 L103.9 133.5 L104.6 133.8 L105.3 134.1 L105.9 134.4 L106.6 134.7 L107.3 135.1 L107.9 135.4 L108.5 135.7 L109.2 136.0 L109.8 136.3 L110.4 136.6 L111.0 137.0 L111.6 137.3 L112.2 137.6 L112.8 137.9 L113.4 138.2 L113.9 138.5 L114.5 138.8 L115.1 139.2 L115.6 139.5 L116.1 139.8 L116.7 140.1 L117.2 140.4 L117.7 140.7 L118.2 141.0 L118.7 141.4 L119.2 141.7 L119.7 142.0 L120.2 142.3 L120.7 142.6 L121.2 142.9 L121.6 143.2 L122.1 143.6 L122.5 143.9 L123.0 144.2 L123.4 144.5 L123.8 144.8 L124.3 145.1 L124.7 145.4 L125.1 145.8 L125.5 146.1 L125.9 146.4 L126.2 146.7 L126.6 147.0 L127.0 147.3 L127.3 147.6 L127.7 148.0 L128.0 148.3 L128.4 148.6 L128.7 148.9 L129.0 149.2 L129.4 149.5 L129.7 149.8 L130.0 150.2 L130.3 150.5 L130.6 150.8 L130.8 151.1 L131.1 151.4 L131.4 151.7 L131.6 152.0 L131.9 152.4 L132.1 152.7 L132.4 153.0 L132.6 153.3 L132.8 153.6 L133.1 153.9 L133.3 154.2 L133.5 154.6 L133.7 154.9 L133.9 155.2 L134.0 155.5 L134.2 155.8 L134.4 156.1 L134.5 156.4 L134.7 156.8 L134.8 157.1 L135.0 157.4 L135.1 157.7 L135.2 158.0 L135.3 158.3 L135.4 158.6 L135.5 159.0 L135.6 159.3 L135.7 159.6 L135.8 159.9 L135.9 160.2 L135.9 160.5 L136.0 160.8 L136.0 161.2 L136.1 161.5 L136.1 161.8 L136.2 162.1 L136.2 162.4 L136.2 162.7 L136.2 163.0 L136.2 163.4 L136.2 163.7 L136.2 164.0 L136.2 164.3 L136.1 164.6 L136.1 164.9 L136.0 165.2 L136.0 165.6 L135.9 165.9 L135.9 166.2 L135.8 166.5 L135.7 166.8 L135.6 167.1 L135.5 167.4 L135.4 167.8 L135.3 168.1 L135.2 168.4 L135.1 168.7 L135.0 169.0 L134.8 169.3 L134.7 169.6 L134.5 170.0 L134.4 170.3 L134.2 170.6 L134.0 170.9 L133.9 171.2 L133.7 171.5 L133.5 171.8 L133.3 172.2 L133.1 172.5 L132.8 172.8 L132.6 173.1 L132.4 173.4 L132.1 173.7 L131.9 174.0 L131.6 174.4 L131.4 174.7 L131.1 175.0 L130.8 175.3 L130.6 175.6 L130.3 175.9 L130.0 176.2 L129.7 176.6 L129.4 176.9 L129.0 177.2 L128.7 177.5 L128.4 177.8 L128.0 178.1 L127.7 178.4 L127.3 178.8 L127.0 179.1 L126.6 179.4 L126.2 179.7 L125.9 180.0 L125.5 180.3 L125.1 180.6 L124.7 181.0 L124.3 181.3 L123.8 181.6 L123.4 181.9 L123.0 182.2 L122.5 182.5 L122.1 182.8 L121.6 183.2 L121.2 183.5 L120.7 183.8 L120.2 184.1 L119.7 184.4 L119.2 184.7 L118.7 185.0 L118.2 185.4 L117.7 185.7 L117.2 186.0 L116.7 186.3 L116.1 186.6 L115.6 186.9 L115.1 187.2 L114.5 187.6 L113.9 187.9 L113.4 188.2 L112.8 188.5 L112.2 188.8 L111.6 189.1 L111.0 189.4 L110.4 189.8 L109.8 190.1 L109.2 190.4 L108.5 190.7 L107.9 191.0 L107.3 191.3 L106.6 191.7 L105.9 192.0 L105.3 192.3 L104.6 192.6 L103.9 192.9 L103.2 193.2 L102.5 193.5 L101.8 193.9 L101.1 194.2 L100.4 194.5 L99.7 194.8 L99.0 195.1 L98.2 195.4 L97.5 195.7 L96.7 196.1 L96.0 196.4 L95.2 196.7 L94.4 197.0 L93.7 197.3 L92.9 197.6 L92.1 197.9 L91.3 198.3 L90.5 198.6 L89.6 198.9 L88.8 199.2 L88.0 199.5 L87.2 199.8 L86.3 200.1 L85.5 200.5 L84.6 200.8 L83.7 201.1 L82.9 201.4 L82.0 201.7 L81.1 202.0 L80.2 202.3 L79.3 202.7 L78.4 203.0 L77.5 203.3 L76.5 203.6 L75.6 203.9 L74.7 204.2 L73.7 204.5 L72.8 204.9 L71.8 205.2 L70.8 205.5 L69.9 205.8 L68.9 206.1 L67.9 206.4 L66.9 206.7 L65.9 207.1 L64.9 207.4 L63.8 207.7 L62.8 208.0 L61.8 208.3 L60.7 208.6 L59.7 208.9 L58.6 209.3 L57.6 209.6 L56.5 209.6 L55.4 209.6" stroke="#16acb8" stroke-width="1.4" stroke-dasharray="4.4 2.2" fill="none"/>
<path d="M118.2 10.3 L118.2 209.6" stroke="#000" stroke-width="1.1" stroke-dasharray="3.6 3.0" stroke-dashoffset="0.8" fill="none"/>
<path d="M120.8 -48.0 L120.9 -39.3 L120.9 -31.4 L121.0 -24.1 L121.1 -17.5 L121.2 -11.4 L121.3 -5.8 L121.4 -0.6 L121.5 4.3 L121.6 8.8 L121.6 13.0 L121.7 16.9 L121.8 20.6 L121.9 24.1 L122.0 27.3 L122.1 30.4 L122.2 33.3 L122.2 36.1 L122.3 38.7 L122.4 41.1 L122.4 43.5 L122.5 45.7 L122.5 47.8 L122.6 49.9 L122.6 51.8 L122.7 53.6 L122.8 55.4 L122.8 57.1 L122.9 58.7 L123.0 60.3 L123.0 61.7 L123.1 63.2 L123.2 64.5 L123.2 65.9 L123.3 67.1 L123.4 68.4 L123.5 69.5 L123.5 70.7 L123.6 71.8 L123.7 72.8 L123.8 73.9 L123.8 74.8 L123.9 75.8 L124.0 76.7 L124.1 77.6 L124.1 78.5 L124.2 79.3 L124.3 80.1 L124.4 80.9 L124.4 81.7 L124.5 82.4 L124.6 83.2 L124.7 83.9 L124.7 84.6 L124.8 85.2 L124.9 85.9 L125.0 86.5 L125.1 87.1 L125.1 87.7 L125.2 88.3 L125.3 88.8 L125.4 89.4 L125.5 89.9 L125.5 90.4 L125.6 91.0 L125.7 91.4 L125.8 91.9 L125.9 92.4 L125.9 92.9 L126.0 93.3 L126.1 93.8 L126.2 94.2 L126.3 94.6 L126.4 95.0 L126.4 95.4 L126.5 95.8 L126.6 96.2 L126.7 96.6 L126.8 96.9 L126.9 97.3 L127.0 97.6 L127.1 98.0 L127.1 98.3 L127.2 98.7 L127.3 99.0 L127.4 99.3 L127.5 99.6 L127.6 99.9 L127.7 100.2 L127.8 100.5 L127.8 100.8 L127.9 101.1 L128.0 101.3 L128.1 101.6 L128.2 101.9 L128.3 102.1 L128.4 102.4 L128.5 102.6 L128.5 102.9 L128.6 103.1 L128.7 103.4 L128.8 103.6 L129.0 104.1 L130.1 106.7 L131.3 108.7 L132.4 110.4 L133.5 111.8 L134.7 113.0 L135.8 113.9 L136.9 114.7 L138.1 115.4 L139.2 116.0 L140.3 116.5 L141.5 116.9 L142.6 117.2 L143.7 117.5 L144.9 117.7 L146.0 117.9 L147.1 118.0 L148.3 118.1 L149.4 118.2 L150.5 118.2 L151.7 118.2 L152.8 118.2 L153.9 118.2 L155.1 118.2 L156.2 118.1 L157.3 118.0 L158.5 117.9 L159.6 117.8 L160.7 117.7 L161.9 117.6 L163.0 117.4 L164.1 117.3 L165.3 117.1 L166.4 116.9 L167.5 116.8 L168.7 116.6 L169.8 116.4 L170.9 116.2 L172.1 116.0 L173.2 115.8 L174.3 115.5 L175.5 115.3 L176.6 115.1 L177.7 114.8 L178.9 114.6 L180.0 114.3 L181.1 114.1 L182.3 113.8 L183.4 113.6 L184.5 113.3 L185.7 113.0 L186.8 112.8 L188.0 112.5 L189.1 112.2 L190.2 111.9 L191.4 111.6 L192.5 111.3 L193.6 111.0 L194.8 110.7 L195.9 110.4 L197.0 110.1 L198.2 109.8 L199.3 109.5 L200.4 109.2 L201.6 108.9 L202.7 108.6 L203.8 108.2 L205.0 107.9 L206.1 107.6 L207.2 107.2 L208.4 106.9 L209.5 106.6 L210.6 106.2 L211.8 105.9 L212.9 105.5 L214.0 105.2 L215.2 104.8 L216.3 104.5 L217.4 104.1 L218.6 103.8 L219.7 103.4 L220.8 103.1 L222.0 102.7 L223.1 102.3 L224.2 102.0 L225.4 101.6 L226.5 101.2 L227.6 100.8 L228.8 100.4 L229.9 100.1 L231.0 99.7 L232.2 99.3 L233.3 98.9 L234.4 98.5 L235.6 98.1 L236.7 97.7 L237.8 97.3 L239.0 96.9 L240.1 96.5 L241.2 96.1 L242.4 95.7 L243.5 95.3 L244.6 94.9 L245.8 94.4 L246.9 94.0 L248.1 93.6 L249.2 93.2 L250.3 92.8 L251.5 92.3 L252.6 91.9 L253.8 91.5 L254.9 91.0 L256.0 90.6 L257.2 90.1 L258.3 89.7 L259.4 89.2 L260.6 88.8 L261.7 88.3 L262.9 87.9 L264.0 87.4 L265.1 87.0 L266.3 86.5 L267.4 86.0 L268.6 85.6 L269.7 85.1 L270.8 84.6 L272.0 84.2 L273.1 83.7 L274.3 83.2 L275.4 82.7 L276.5 82.2 L277.7 81.7 L278.8 81.3 L280.0 80.8 L281.1 80.3 L282.2 79.8 L283.4 79.3 L284.5 78.8 L285.7 78.2 L286.8 77.7 L288.0 77.2 L289.1 76.7 L290.2 76.2 L291.4 75.7 L292.5 75.1 L293.7 74.6 L294.8 74.1 L295.9 73.5 L297.1 73.0 L298.2 72.5 L299.4 71.9 L300.5 71.4 L301.6 70.8 L302.8 70.3 L303.9 69.7 L305.1 69.2 L306.2 68.6 L307.3 68.1 L308.5 67.5 L309.6 66.9 L310.8 66.3 L311.9 65.8 L313.1 65.2 L314.2 64.6 L315.3 64.0 L316.5 63.4 L317.6 62.8 L318.8 62.3 L319.9 61.7 L321.0 61.1 L322.2 60.5 L323.3 59.8 L324.5 59.2 L325.6 58.6 L326.8 58.0 L327.9 57.4 L329.0 56.8 L330.2 56.1 L331.3 55.5 L332.5 54.9 L333.6 54.2 L334.7 53.6 L335.9 53.0 L337.0 52.3 L338.2 51.7 L339.3 51.0 L340.5 50.4 L341.6 49.7 L342.7 49.0 L343.9 48.4 L345.0 47.7 L346.2 47.0 L347.3 46.3 L348.5 45.7 L349.6 45.0 L350.7 44.3 L351.9 43.6 L353.0 42.9 L354.2 42.2 L355.3 41.5" stroke="#ff0000" stroke-width="1.55" fill="none" stroke-linejoin="round"/>
<path d="M55.3 167.2 L55.9 167.0 L56.5 166.8 L57.0 166.6 L57.6 166.4 L58.2 166.3 L58.8 166.1 L59.4 165.9 L59.9 165.7 L60.5 165.6 L61.1 165.4 L61.7 165.2 L62.3 165.0 L62.9 164.9 L63.4 164.7 L64.0 164.5 L64.6 164.4 L65.2 164.2 L65.8 164.0 L66.3 163.9 L66.9 163.7 L67.5 163.6 L68.1 163.4 L68.7 163.3 L69.2 163.1 L69.8 162.9 L70.4 162.8 L71.0 162.6 L71.6 162.5 L72.1 162.3 L72.7 162.2 L73.3 162.1 L73.9 161.9 L74.5 161.8 L75.0 161.6 L75.6 161.5 L76.2 161.4 L76.8 161.2 L77.4 161.1 L78.0 160.9 L78.5 160.8 L79.1 160.7 L79.7 160.6 L80.3 160.4 L80.9 160.3 L81.4 160.2 L82.0 160.1 L82.6 159.9 L83.2 159.8 L83.8 159.7 L84.3 159.6 L84.9 159.5 L85.5 159.4 L86.1 159.3 L86.7 159.1 L87.2 159.0 L87.8 158.9 L88.4 158.8 L89.0 158.7 L89.6 158.6 L90.1 158.5 L90.7 158.4 L91.3 158.4 L91.9 158.3 L92.5 158.2 L93.1 158.1 L93.6 158.0 L94.2 157.9 L94.8 157.9 L95.4 157.8 L96.0 157.7 L96.5 157.7 L97.1 157.6 L97.7 157.5 L98.3 157.5 L98.9 157.4 L99.4 157.4 L100.0 157.4 L100.6 157.3 L101.2 157.3 L101.8 157.3 L102.3 157.3 L102.9 157.2 L103.5 157.2 L104.1 157.3 L104.7 157.3 L105.2 157.3 L105.8 157.3 L106.4 157.4 L107.0 157.5 L107.6 157.6 L108.2 157.7 L108.7 157.8 L109.3 158.0 L109.9 158.2 L110.5 158.4 L111.1 158.7 L111.6 159.1 L112.2 159.6 L112.8 160.2 L112.9 160.2 L112.9 160.3 L112.9 160.3 L112.9 160.3 L113.0 160.3 L113.0 160.4 L113.0 160.4 L113.0 160.4 L113.1 160.5 L113.1 160.5 L113.1 160.5 L113.1 160.6 L113.2 160.6 L113.2 160.6 L113.2 160.7 L113.2 160.7 L113.3 160.7 L113.3 160.8 L113.3 160.8 L113.3 160.9 L113.4 160.9 L113.4 160.9 L113.4 161.0 L113.4 161.0 L113.5 161.0 L113.5 161.1 L113.5 161.1 L113.5 161.2 L113.6 161.2 L113.6 161.2 L113.6 161.3 L113.7 161.3 L113.7 161.4 L113.7 161.4 L113.7 161.5 L113.8 161.5 L113.8 161.5 L113.8 161.6 L113.8 161.6 L113.9 161.7 L113.9 161.7 L113.9 161.8 L113.9 161.8 L114.0 161.9 L114.0 161.9 L114.0 162.0 L114.0 162.0 L114.1 162.1 L114.1 162.1 L114.1 162.2 L114.1 162.2 L114.2 162.3 L114.2 162.3 L114.2 162.4 L114.2 162.5 L114.3 162.5 L114.3 162.6 L114.3 162.6 L114.4 162.7 L114.4 162.8 L114.4 162.8 L114.4 162.9 L114.5 162.9 L114.5 163.0 L114.5 163.1 L114.5 163.1 L114.6 163.2 L114.6 163.3 L114.6 163.3 L114.6 163.4 L114.7 163.5 L114.7 163.6 L114.7 163.6 L114.7 163.7 L114.8 163.8 L114.8 163.9 L114.8 163.9 L114.8 164.0 L114.9 164.1 L114.9 164.2 L114.9 164.3 L114.9 164.4 L115.0 164.4 L115.0 164.5 L115.0 164.6 L115.0 164.7 L115.1 164.8 L115.1 164.9 L115.1 165.0 L115.2 165.1 L115.2 165.2 L115.2 165.3 L115.2 165.4 L115.3 165.5 L115.3 165.6 L115.3 165.7 L115.3 165.8 L115.4 165.9 L115.4 166.1 L115.4 166.2 L115.4 166.3 L115.5 166.4 L115.5 166.5 L115.5 166.7 L115.5 166.8 L115.6 166.9 L115.6 167.1 L115.6 167.2 L115.6 167.3 L115.7 167.5 L115.7 167.6 L115.7 167.8 L115.7 167.9 L115.8 168.1 L115.8 168.2 L115.8 168.4 L115.9 168.6 L115.9 168.7 L115.9 168.9 L115.9 169.1 L116.0 169.3 L116.0 169.5 L116.0 169.7 L116.0 169.9 L116.1 170.1 L116.1 170.3 L116.1 170.5 L116.1 170.7 L116.2 170.9 L116.2 171.1 L116.2 171.4 L116.2 171.6 L116.3 171.9 L116.3 172.1 L116.3 172.4 L116.3 172.6 L116.4 172.9 L116.4 173.2 L116.4 173.5 L116.4 173.8 L116.5 174.1 L116.5 174.4 L116.5 174.7 L116.6 175.1 L116.6 175.4 L116.6 175.8 L116.6 176.1 L116.7 176.5 L116.7 176.9 L116.7 177.3 L116.7 177.8 L116.8 178.2 L116.8 178.7 L116.8 179.1 L116.8 179.6 L116.9 180.1 L116.9 180.7 L116.9 181.2 L116.9 181.8 L117.0 182.4 L117.0 183.0 L117.0 183.7 L117.0 184.4 L117.1 185.1 L117.1 185.8 L117.1 186.6 L117.1 187.4 L117.2 188.3 L117.2 189.2 L117.2 190.1 L117.2 191.1 L117.3 192.2 L117.3 193.3 L117.3 194.5 L117.4 195.8 L117.4 197.1 L117.4 198.5 L117.4 200.1 L117.5 201.7 L117.5 203.4 L117.5 205.3 L117.5 207.3 L117.6 209.5" stroke="#ff0000" stroke-width="1.55" fill="none" stroke-linejoin="round"/>
<path d="M55.2 173.0 L55.6 173.1 L56.0 173.1 L56.5 173.2 L56.9 173.2 L57.4 173.3 L57.9 173.4 L58.5 173.5 L59.1 173.5 L59.7 173.6 L60.4 173.7 L61.1 173.8 L61.9 174.0 L62.7 174.1 L63.5 174.2 L64.3 174.3 L65.2 174.4 L66.1 174.6 L66.9 174.7 L67.8 174.8 L68.7 175.0 L69.6 175.1 L70.5 175.3 L71.4 175.4 L72.3 175.6 L73.2 175.7 L74.0 175.8 L74.9 176.0 L75.8 176.1 L76.6 176.3 L77.5 176.4 L78.3 176.6 L79.1 176.7 L79.9 176.9 L80.7 177.0 L81.5 177.2 L82.3 177.4 L83.0 177.5 L83.8 177.7 L84.5 177.9 L85.2 178.0 L85.9 178.2 L86.6 178.4 L87.3 178.5 L88.0 178.7 L88.7 178.9 L89.3 179.0 L89.9 179.2 L90.6 179.4 L91.2 179.6 L91.8 179.7 L92.4 179.9 L93.0 180.1 L93.5 180.3 L94.1 180.5 L94.6 180.7 L95.1 180.9 L95.6 181.1 L96.1 181.4 L96.6 181.6 L97.1 181.8 L97.6 182.1 L98.1 182.3 L98.6 182.6 L99.1 182.8 L99.6 183.1 L100.1 183.3 L100.6 183.6 L101.1 183.9 L101.7 184.2 L102.2 184.5 L102.8 184.8 L103.3 185.1 L103.8 185.5 L104.4 185.9 L104.9 186.4 L105.5 186.8 L106.0 187.3 L106.5 187.8 L107.0 188.3 L107.5 188.8 L108.0 189.3 L108.4 189.8 L108.8 190.3 L109.2 190.8 L109.6 191.2 L110.0 191.7 L110.3 192.2 L110.6 192.6 L110.9 193.1 L111.2 193.6 L111.5 194.1 L111.7 194.6 L112.0 195.1 L112.3 195.7 L112.6 196.3 L112.8 196.9 L113.1 197.5 L113.4 198.1 L113.6 198.8 L113.9 199.4 L114.2 200.0 L114.4 200.7 L114.7 201.3 L114.9 202.0 L115.2 202.6 L115.4 203.2 L115.7 203.8 L115.9 204.4 L116.1 205.0 L116.3 205.5 L116.5 206.0 L116.7 206.5 L116.9 207.0 L117.0 207.4 L117.1 207.8 L117.3 208.2 L117.4 208.6 L117.5 208.9 L117.6 209.3" stroke="#0000ff" stroke-width="1.6" fill="none" stroke-linejoin="round"/>
<path d="M118.3 209.3 L118.3 163.0" stroke="#0000ff" stroke-width="1.6" fill="none"/>
<path d="M118.3 163.4 L120.1 163.4" stroke="#0000ff" stroke-width="1.1" fill="none"/>
<path d="M105.8 140.4 L106.3 138.9 L106.7 137.4 L107.2 135.9 L107.6 134.4 L108.1 132.8 L108.5 131.2 L109.0 129.5 L109.5 127.8 L109.9 126.0 L110.4 124.1 L110.9 122.1 L111.3 120.1 L111.8 118.1 L112.3 116.0 L112.8 113.8 L113.3 111.7 L113.7 109.5 L114.2 107.3 L114.7 105.1" stroke="#0000b4" stroke-width="1.8" fill="none"/>
<path d="M114.5 159.8 L115.0 158.4 L115.6 156.9 L116.1 155.4 L116.6 153.9 L117.2 152.3 L117.7 150.7 L118.2 149.0 L118.7 147.2 L119.2 145.3 L119.7 143.3 L120.2 141.2 L120.6 139.0 L121.1 136.8 L121.6 134.5 L122.0 132.2 L122.5 129.8 L122.9 127.4 L123.4 125.0 L123.8 122.6" stroke="#0000b4" stroke-width="1.8" fill="none"/>
<path d="M162.8 138.1 L164.0 134.8 L165.3 131.4 L166.5 128.1 L167.7 124.8 L168.8 121.5 L169.9 118.3 L171.0 115.0 L172.0 111.8 L173.0 108.6 L173.8 105.4 L174.6 102.2 L175.3 98.9 L176.0 95.6 L176.5 92.2 L177.0 88.7 L177.4 85.2 L177.7 81.7 L178.1 78.2 L178.4 74.6" stroke="#0000b4" stroke-width="1.8" fill="none"/>
<path d="M180.5 133.0 L182.0 130.5 L183.5 128.0 L184.9 125.6 L186.3 123.1 L187.7 120.7 L189.0 118.4 L190.2 116.1 L191.4 113.9 L192.5 111.7 L193.5 109.5 L194.5 107.3 L195.4 105.0 L196.3 102.6 L197.2 100.2 L198.1 97.6 L198.9 95.0 L199.7 92.4 L200.5 89.7 L201.3 87.0" stroke="#0000b4" stroke-width="1.8" fill="none"/>
<path d="M327.4 70.6 L328.5 67.7 L329.5 64.8 L330.6 61.9 L331.6 59.0 L332.5 56.2 L333.4 53.4 L334.3 50.8 L335.1 48.2 L335.8 45.6 L336.4 43.2 L337.0 40.7 L337.6 38.3 L338.2 36.0 L338.8 33.6 L339.3 31.2 L339.9 28.8 L340.4 26.5 L341.0 24.1 L341.5 21.7" stroke="#0000b4" stroke-width="1.8" fill="none"/>
<circle cx="109.6" cy="127.2" r="2.05" fill="#0000b4"/>
<circle cx="118.7" cy="147.2" r="2.05" fill="#0000b4"/>
<circle cx="170.4" cy="116.9" r="2.05" fill="#0000b4"/>
<circle cx="189.8" cy="116.9" r="2.05" fill="#0000b4"/>
<circle cx="334.4" cy="50.4" r="2.05" fill="#0000b4"/>
</g>
<rect x="55.4" y="10.3" width="298.95000000000005" height="199.29999999999998" fill="none" stroke="#000" stroke-width="1.2"/>
<path d="M55.4 209.6 v-4.0 M55.4 10.3 v4.0 M71.6 209.6 v-2.4 M71.6 10.3 v2.4 M87.7 209.6 v-2.4 M87.7 10.3 v2.4 M103.9 209.6 v-2.4 M103.9 10.3 v2.4 M120.0 209.6 v-2.4 M120.0 10.3 v2.4 M136.2 209.6 v-4.0 M136.2 10.3 v4.0 M152.4 209.6 v-2.4 M152.4 10.3 v2.4 M168.5 209.6 v-2.4 M168.5 10.3 v2.4 M184.7 209.6 v-2.4 M184.7 10.3 v2.4 M200.8 209.6 v-2.4 M200.8 10.3 v2.4 M217.0 209.6 v-4.0 M217.0 10.3 v4.0 M233.1 209.6 v-2.4 M233.1 10.3 v2.4 M249.3 209.6 v-2.4 M249.3 10.3 v2.4 M265.5 209.6 v-2.4 M265.5 10.3 v2.4 M281.6 209.6 v-2.4 M281.6 10.3 v2.4 M297.8 209.6 v-4.0 M297.8 10.3 v4.0 M313.9 209.6 v-2.4 M313.9 10.3 v2.4 M330.1 209.6 v-2.4 M330.1 10.3 v2.4 M346.3 209.6 v-2.4 M346.3 10.3 v2.4 M55.4 209.7 h2.4 M354.35 209.7 h-2.4 M55.4 203.1 h2.4 M354.35 203.1 h-2.4 M55.4 196.4 h4.0 M354.35 196.4 h-4.0 M55.4 189.8 h2.4 M354.35 189.8 h-2.4 M55.4 183.1 h2.4 M354.35 183.1 h-2.4 M55.4 176.5 h2.4 M354.35 176.5 h-2.4 M55.4 169.8 h2.4 M354.35 169.8 h-2.4 M55.4 163.2 h4.0 M354.35 163.2 h-4.0 M55.4 156.6 h2.4 M354.35 156.6 h-2.4 M55.4 149.9 h2.4 M354.35 149.9 h-2.4 M55.4 143.3 h2.4 M354.35 143.3 h-2.4 M55.4 136.6 h2.4 M354.35 136.6 h-2.4 M55.4 130.0 h4.0 M354.35 130.0 h-4.0 M55.4 123.3 h2.4 M354.35 123.3 h-2.4 M55.4 116.7 h2.4 M354.35 116.7 h-2.4 M55.4 110.0 h2.4 M354.35 110.0 h-2.4 M55.4 103.4 h2.4 M354.35 103.4 h-2.4 M55.4 96.7 h4.0 M354.35 96.7 h-4.0 M55.4 90.1 h2.4 M354.35 90.1 h-2.4 M55.4 83.4 h2.4 M354.35 83.4 h-2.4 M55.4 76.8 h2.4 M354.35 76.8 h-2.4 M55.4 70.1 h2.4 M354.35 70.1 h-2.4 M55.4 63.5 h4.0 M354.35 63.5 h-4.0 M55.4 56.8 h2.4 M354.35 56.8 h-2.4 M55.4 50.2 h2.4 M354.35 50.2 h-2.4 M55.4 43.5 h2.4 M354.35 43.5 h-2.4 M55.4 36.9 h2.4 M354.35 36.9 h-2.4 M55.4 30.2 h4.0 M354.35 30.2 h-4.0 M55.4 23.6 h2.4 M354.35 23.6 h-2.4 M55.4 17.0 h2.4 M354.35 17.0 h-2.4 M55.4 10.3 h2.4 M354.35 10.3 h-2.4" stroke="#000" stroke-width="1" fill="none"/>
<g filter="url(#gs)">
<text x="55.4" y="222" text-anchor="middle" class="t">−0.005</text>
<text x="136.2" y="222" text-anchor="middle" class="t">0.000</text>
<text x="217.0" y="222" text-anchor="middle" class="t">0.005</text>
<text x="297.8" y="222" text-anchor="middle" class="t">0.010</text>
<text x="52.3" y="200.1" text-anchor="end" class="t">−0.05</text>
<text x="52.3" y="166.9" text-anchor="end" class="t">0.00</text>
<text x="52.3" y="133.7" text-anchor="end" class="t">0.05</text>
<text x="52.3" y="100.4" text-anchor="end" class="t">0.10</text>
<text x="52.3" y="67.2" text-anchor="end" class="t">0.15</text>
<text x="52.3" y="33.9" text-anchor="end" class="t">0.20</text>
<text y="242.6" class="a"><tspan x="183.8">p</tspan><tspan x="190.8">/</tspan><tspan x="194.4">E</tspan></text><text y="242.0" class="a"><tspan x="179.9">(</tspan><tspan x="221.0">)</tspan></text>
<text y="244.8" class="s"><tspan x="202.2">D</tspan><tspan x="209.0">D</tspan></text>
<text y="238.4" class="s"><tspan x="224.6">2</tspan></text>
<polygon points="217.80,241.00 218.39,242.19 219.70,242.38 218.75,243.31 218.98,244.62 217.80,244.00 216.62,244.62 216.85,243.31 215.90,242.38 217.21,242.19" fill="#000"/>
<g transform="translate(13.1,147) rotate(-90)"><text y="0" class="a"><tspan x="-0.86">p</tspan><tspan x="10.2">C</tspan><tspan x="19.2">o</tspan><tspan x="25.5">t</tspan><tspan x="29.3">(</tspan><tspan x="33.9" font-style="italic">δ</tspan><tspan x="41.1">)</tspan><tspan x="44.8">/</tspan><tspan x="48.0">E</tspan></text><text y="2.6" class="s"><tspan x="56.4">D</tspan><tspan x="62.5">D</tspan></text><polygon points="71.75,-2.70 72.51,-1.15 74.22,-0.90 72.99,0.30 73.28,2.00 71.75,1.20 70.22,2.00 70.51,0.30 69.28,-0.90 70.99,-1.15" fill="#000"/></g>
</g>
</g>
</svg>
</body></html>
